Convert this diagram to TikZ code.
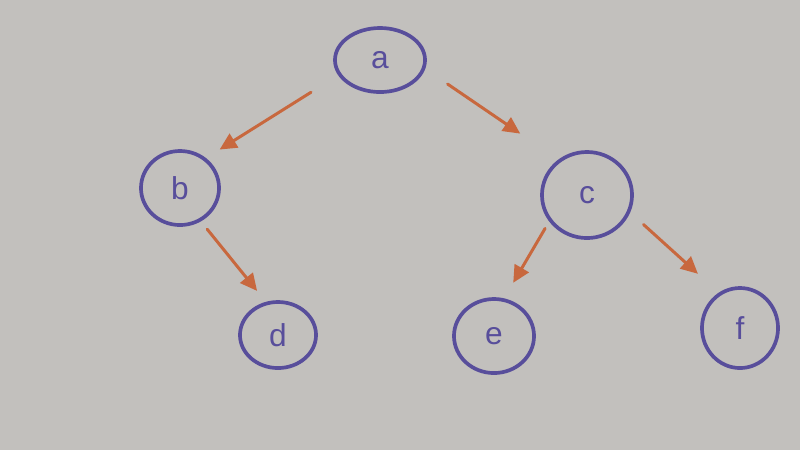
\documentclass[tikz,border=0pt]{standalone}
\usepackage{fontspec}
\setmainfont{Liberation Sans}
\usetikzlibrary{shapes.geometric,arrows.meta}
\definecolor{paper}{RGB}{194,192,189}
\definecolor{ink}{RGB}{88,78,155}
\definecolor{marker}{RGB}{200,104,62}
\tikzset{
  vertex/.style={ellipse, draw=ink, line width=1.05pt, inner sep=0pt,
    text=ink, font=\fontsize{9}{10}\selectfont},
  edge/.style={draw=marker, line width=0.85pt, line cap=round,
    -{Triangle[length=1.7mm,width=1.6mm]}}
}
\begin{document}
\begin{tikzpicture}[x=0.01cm,y=-0.01cm]
  % paper background
  \fill[paper] (0,0) rectangle (800,450);
  \useasboundingbox (0,0) rectangle (800,450);

  % vertices
  \node[vertex, minimum width=0.90cm, minimum height=0.64cm] (a) at (380,60) {a};
  \node[vertex, minimum width=0.78cm, minimum height=0.74cm] (b) at (180,188) {b};
  \node[vertex, minimum width=0.90cm, minimum height=0.86cm] (c) at (587,195) {c};
  \node[vertex, minimum width=0.76cm, minimum height=0.66cm] (d) at (278,335) {d};
  \node[vertex, minimum width=0.80cm, minimum height=0.74cm] (e) at (494,336) {e};
  \node[vertex, minimum width=0.76cm, minimum height=0.80cm] (f) at (740,328) {f};

  % edges
  \path[edge, shorten <=0.32cm, shorten >=0.16cm] (a.200) -- (b.49);
  \path[edge, shorten <=0.27cm, shorten >=0.46cm] (a.349) -- (c.129);
  \path[edge, shorten <=0.10cm, shorten >=0.14cm] (b.302) -- (d.110);
  \path[edge, shorten <=0.08cm, shorten >=0.18cm] (c.215) -- (e.75);
  \path[edge, shorten <=0.18cm, shorten >=0.28cm] (c.338) -- (f.121);
\end{tikzpicture}
\end{document}
